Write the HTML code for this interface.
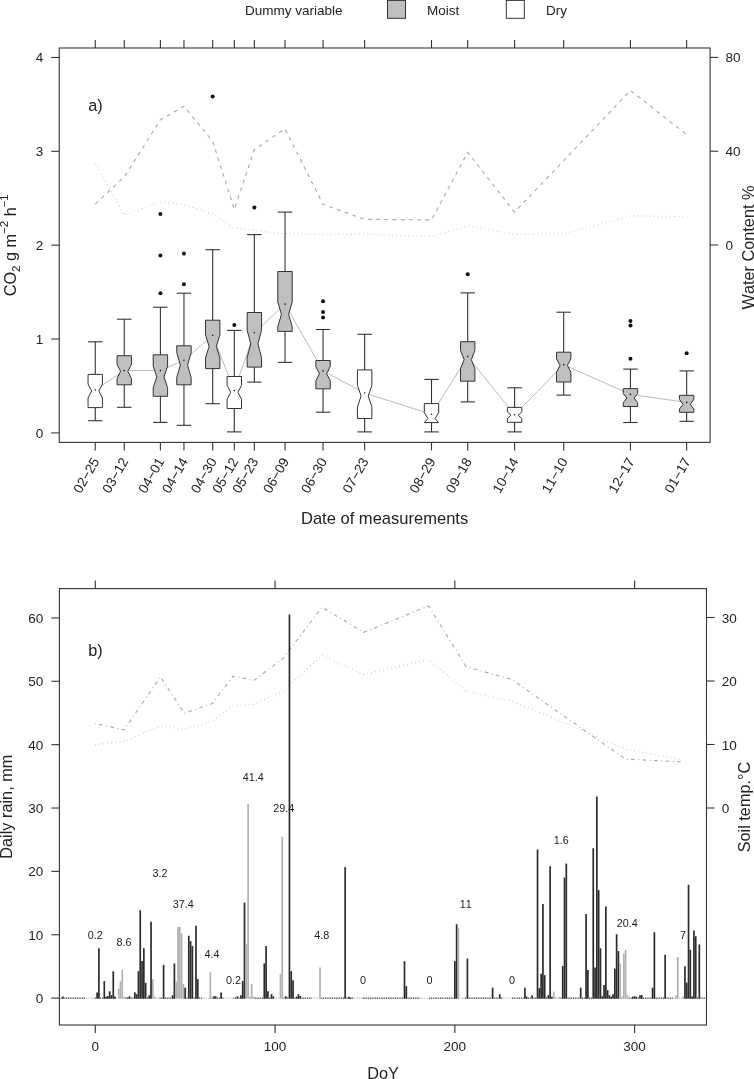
<!DOCTYPE html>
<html lang="en"><head><meta charset="utf-8"><title>Figure</title>
<style>html,body{margin:0;padding:0;background:#fff}body{width:754px;height:1079px;overflow:hidden}</style></head>
<body>
<svg width="754" height="1079" viewBox="0 0 754 1079" style="display:block;font-family:'Liberation Sans', sans-serif;font-kerning:none">
<rect x="0" y="0" width="754" height="1079" fill="#fff"/>
<text x="245" y="14.6" font-size="13.5" fill="#222">Dummy variable</text>
<rect x="387.5" y="0.4" width="18" height="17.9" fill="#bfbfbf" stroke="#333" stroke-width="1"/>
<text x="427" y="14.6" font-size="13.5" fill="#222">Moist</text>
<rect x="506.3" y="0.4" width="18" height="17.9" fill="#fff" stroke="#333" stroke-width="1"/>
<text x="546" y="14.6" font-size="13.5" fill="#222">Dry</text>
<polyline points="95.25,162.70 124.25,215.20 160.40,201.60 183.95,204.70 212.70,214.00 234.30,228.00 254.35,230.60 285.00,233.80 323.05,234.60 364.65,234.20 431.50,236.50 467.70,225.90 514.60,234.60 563.70,234.00 630.45,215.80 686.65,216.80" fill="none" stroke="#d0d0d0" stroke-width="1.2" stroke-dasharray="1.1,3.0" stroke-linecap="butt" stroke-linejoin="round"/>
<polyline points="95.25,204.00 124.25,177.00 160.40,119.80 183.95,106.30 212.70,141.30 234.30,209.30 254.35,149.60 285.00,128.80 323.05,204.30 364.65,219.30 431.50,219.90 467.70,152.30 514.60,212.20 630.45,90.50 686.65,134.60" fill="none" stroke="#ababab" stroke-width="1.15" stroke-dasharray="3.8,4.39" stroke-linecap="butt" stroke-linejoin="round"/>
<polyline points="95.25,390.00 124.25,370.60 160.40,370.60 183.95,360.20 212.70,335.30 234.30,390.60 254.35,332.80 285.00,304.10 323.05,370.90 364.65,393.00 431.50,414.30 467.70,356.60 514.60,414.70 563.70,364.60 630.45,394.40 686.65,402.40" fill="none" stroke="#a8a8a8" stroke-width="0.8" stroke-dasharray="none" stroke-linecap="butt" stroke-linejoin="round"/>
<line x1="95.25" y1="341.80" x2="95.25" y2="374.40" stroke="#333" stroke-width="1.1" />
<line x1="95.25" y1="407.60" x2="95.25" y2="420.70" stroke="#333" stroke-width="1.1" />
<line x1="88.05" y1="341.80" x2="102.45" y2="341.80" stroke="#333" stroke-width="1.1" />
<line x1="88.05" y1="420.70" x2="102.45" y2="420.70" stroke="#333" stroke-width="1.1" />
<polygon points="88.05,374.40 102.45,374.40 102.45,384.00 98.85,391.00 102.45,398.00 102.45,407.60 88.05,407.60 88.05,398.00 91.65,391.00 88.05,384.00" fill="#fff" stroke="#333" stroke-width="1.0" stroke-linejoin="miter"/>
<circle cx="95.25" cy="390.00" r="0.8" fill="#111"/>
<line x1="124.25" y1="319.20" x2="124.25" y2="355.70" stroke="#333" stroke-width="1.1" />
<line x1="124.25" y1="384.80" x2="124.25" y2="407.30" stroke="#333" stroke-width="1.1" />
<line x1="117.05" y1="319.20" x2="131.45" y2="319.20" stroke="#333" stroke-width="1.1" />
<line x1="117.05" y1="407.30" x2="131.45" y2="407.30" stroke="#333" stroke-width="1.1" />
<polygon points="117.05,355.70 131.45,355.70 131.45,364.40 127.85,371.40 131.45,378.40 131.45,384.80 117.05,384.80 117.05,378.40 120.65,371.40 117.05,364.40" fill="#bfbfbf" stroke="#333" stroke-width="1.0" stroke-linejoin="miter"/>
<circle cx="124.25" cy="370.60" r="0.8" fill="#111"/>
<line x1="160.40" y1="307.20" x2="160.40" y2="354.80" stroke="#333" stroke-width="1.1" />
<line x1="160.40" y1="396.30" x2="160.40" y2="422.40" stroke="#333" stroke-width="1.1" />
<line x1="153.20" y1="307.20" x2="167.60" y2="307.20" stroke="#333" stroke-width="1.1" />
<line x1="153.20" y1="422.40" x2="167.60" y2="422.40" stroke="#333" stroke-width="1.1" />
<polygon points="153.20,354.80 167.60,354.80 167.60,366.10 164.00,376.90 167.60,387.70 167.60,396.30 153.20,396.30 153.20,387.70 156.80,376.90 153.20,366.10" fill="#bfbfbf" stroke="#333" stroke-width="1.0" stroke-linejoin="miter"/>
<circle cx="160.40" cy="370.60" r="0.8" fill="#111"/>
<circle cx="160.40" cy="214.00" r="2.0" fill="#111"/>
<circle cx="160.40" cy="255.40" r="2.0" fill="#111"/>
<circle cx="160.40" cy="293.20" r="2.0" fill="#111"/>
<line x1="183.95" y1="293.20" x2="183.95" y2="345.80" stroke="#333" stroke-width="1.1" />
<line x1="183.95" y1="384.80" x2="183.95" y2="425.30" stroke="#333" stroke-width="1.1" />
<line x1="176.75" y1="293.20" x2="191.15" y2="293.20" stroke="#333" stroke-width="1.1" />
<line x1="176.75" y1="425.30" x2="191.15" y2="425.30" stroke="#333" stroke-width="1.1" />
<polygon points="176.75,345.80 191.15,345.80 191.15,352.70 187.55,365.10 191.15,377.50 191.15,384.80 176.75,384.80 176.75,377.50 180.35,365.10 176.75,352.70" fill="#bfbfbf" stroke="#333" stroke-width="1.0" stroke-linejoin="miter"/>
<circle cx="183.95" cy="360.20" r="0.8" fill="#111"/>
<circle cx="183.95" cy="253.60" r="2.0" fill="#111"/>
<circle cx="183.95" cy="284.30" r="2.0" fill="#111"/>
<line x1="212.70" y1="249.70" x2="212.70" y2="320.20" stroke="#333" stroke-width="1.1" />
<line x1="212.70" y1="368.60" x2="212.70" y2="403.70" stroke="#333" stroke-width="1.1" />
<line x1="205.50" y1="249.70" x2="219.90" y2="249.70" stroke="#333" stroke-width="1.1" />
<line x1="205.50" y1="403.70" x2="219.90" y2="403.70" stroke="#333" stroke-width="1.1" />
<polygon points="205.50,320.20 219.90,320.20 219.90,334.80 216.30,346.40 219.90,358.00 219.90,368.60 205.50,368.60 205.50,358.00 209.10,346.40 205.50,334.80" fill="#bfbfbf" stroke="#333" stroke-width="1.0" stroke-linejoin="miter"/>
<circle cx="212.70" cy="335.30" r="0.8" fill="#111"/>
<circle cx="212.70" cy="96.60" r="2.0" fill="#111"/>
<line x1="234.30" y1="330.40" x2="234.30" y2="376.50" stroke="#333" stroke-width="1.1" />
<line x1="234.30" y1="408.50" x2="234.30" y2="431.90" stroke="#333" stroke-width="1.1" />
<line x1="227.10" y1="330.40" x2="241.50" y2="330.40" stroke="#333" stroke-width="1.1" />
<line x1="227.10" y1="431.90" x2="241.50" y2="431.90" stroke="#333" stroke-width="1.1" />
<polygon points="227.10,376.50 241.50,376.50 241.50,385.30 237.90,392.30 241.50,399.30 241.50,408.50 227.10,408.50 227.10,399.30 230.70,392.30 227.10,385.30" fill="#fff" stroke="#333" stroke-width="1.0" stroke-linejoin="miter"/>
<circle cx="234.30" cy="390.60" r="0.8" fill="#111"/>
<circle cx="234.30" cy="325.00" r="2.0" fill="#111"/>
<line x1="254.35" y1="234.60" x2="254.35" y2="312.50" stroke="#333" stroke-width="1.1" />
<line x1="254.35" y1="367.10" x2="254.35" y2="382.10" stroke="#333" stroke-width="1.1" />
<line x1="247.15" y1="234.60" x2="261.55" y2="234.60" stroke="#333" stroke-width="1.1" />
<line x1="247.15" y1="382.10" x2="261.55" y2="382.10" stroke="#333" stroke-width="1.1" />
<polygon points="247.15,312.50 261.55,312.50 261.55,330.20 257.95,343.90 261.55,357.60 261.55,367.10 247.15,367.10 247.15,357.60 250.75,343.90 247.15,330.20" fill="#bfbfbf" stroke="#333" stroke-width="1.0" stroke-linejoin="miter"/>
<circle cx="254.35" cy="332.80" r="0.8" fill="#111"/>
<circle cx="254.35" cy="207.40" r="2.0" fill="#111"/>
<line x1="285.00" y1="212.10" x2="285.00" y2="271.50" stroke="#333" stroke-width="1.1" />
<line x1="285.00" y1="331.40" x2="285.00" y2="362.40" stroke="#333" stroke-width="1.1" />
<line x1="277.80" y1="212.10" x2="292.20" y2="212.10" stroke="#333" stroke-width="1.1" />
<line x1="277.80" y1="362.40" x2="292.20" y2="362.40" stroke="#333" stroke-width="1.1" />
<polygon points="277.80,271.50 292.20,271.50 292.20,302.00 288.60,314.40 292.20,326.80 292.20,331.40 277.80,331.40 277.80,326.80 281.40,314.40 277.80,302.00" fill="#bfbfbf" stroke="#333" stroke-width="1.0" stroke-linejoin="miter"/>
<circle cx="285.00" cy="304.10" r="0.8" fill="#111"/>
<line x1="323.05" y1="329.50" x2="323.05" y2="360.50" stroke="#333" stroke-width="1.1" />
<line x1="323.05" y1="388.80" x2="323.05" y2="412.20" stroke="#333" stroke-width="1.1" />
<line x1="315.85" y1="329.50" x2="330.25" y2="329.50" stroke="#333" stroke-width="1.1" />
<line x1="315.85" y1="412.20" x2="330.25" y2="412.20" stroke="#333" stroke-width="1.1" />
<polygon points="315.85,360.50 330.25,360.50 330.25,366.60 326.65,373.70 330.25,380.80 330.25,388.80 315.85,388.80 315.85,380.80 319.45,373.70 315.85,366.60" fill="#bfbfbf" stroke="#333" stroke-width="1.0" stroke-linejoin="miter"/>
<circle cx="323.05" cy="370.90" r="0.8" fill="#111"/>
<circle cx="323.05" cy="301.30" r="2.0" fill="#111"/>
<circle cx="323.05" cy="312.00" r="2.0" fill="#111"/>
<circle cx="323.05" cy="317.50" r="2.0" fill="#111"/>
<line x1="364.65" y1="334.30" x2="364.65" y2="369.90" stroke="#333" stroke-width="1.1" />
<line x1="364.65" y1="418.50" x2="364.65" y2="431.90" stroke="#333" stroke-width="1.1" />
<line x1="357.45" y1="334.30" x2="371.85" y2="334.30" stroke="#333" stroke-width="1.1" />
<line x1="357.45" y1="431.90" x2="371.85" y2="431.90" stroke="#333" stroke-width="1.1" />
<polygon points="357.45,369.90 371.85,369.90 371.85,385.30 368.25,396.10 371.85,406.90 371.85,418.50 357.45,418.50 357.45,406.90 361.05,396.10 357.45,385.30" fill="#fff" stroke="#333" stroke-width="1.0" stroke-linejoin="miter"/>
<circle cx="364.65" cy="393.00" r="0.8" fill="#111"/>
<line x1="431.50" y1="379.40" x2="431.50" y2="403.60" stroke="#333" stroke-width="1.1" />
<line x1="431.50" y1="422.60" x2="431.50" y2="431.90" stroke="#333" stroke-width="1.1" />
<line x1="424.30" y1="379.40" x2="438.70" y2="379.40" stroke="#333" stroke-width="1.1" />
<line x1="424.30" y1="431.90" x2="438.70" y2="431.90" stroke="#333" stroke-width="1.1" />
<polygon points="424.30,403.60 438.70,403.60 438.70,412.70 435.10,418.50 438.70,422.60 438.70,422.60 424.30,422.60 424.30,422.60 427.90,418.50 424.30,412.70" fill="#fff" stroke="#333" stroke-width="1.0" stroke-linejoin="miter"/>
<circle cx="431.50" cy="414.30" r="0.8" fill="#111"/>
<line x1="467.70" y1="292.90" x2="467.70" y2="341.70" stroke="#333" stroke-width="1.1" />
<line x1="467.70" y1="381.20" x2="467.70" y2="401.90" stroke="#333" stroke-width="1.1" />
<line x1="460.50" y1="292.90" x2="474.90" y2="292.90" stroke="#333" stroke-width="1.1" />
<line x1="460.50" y1="401.90" x2="474.90" y2="401.90" stroke="#333" stroke-width="1.1" />
<polygon points="460.50,341.70 474.90,341.70 474.90,350.50 471.30,359.60 474.90,368.70 474.90,381.20 460.50,381.20 460.50,368.70 464.10,359.60 460.50,350.50" fill="#bfbfbf" stroke="#333" stroke-width="1.0" stroke-linejoin="miter"/>
<circle cx="467.70" cy="356.60" r="0.8" fill="#111"/>
<circle cx="467.70" cy="274.30" r="2.0" fill="#111"/>
<line x1="514.60" y1="387.80" x2="514.60" y2="407.40" stroke="#333" stroke-width="1.1" />
<line x1="514.60" y1="422.30" x2="514.60" y2="431.90" stroke="#333" stroke-width="1.1" />
<line x1="507.40" y1="387.80" x2="521.80" y2="387.80" stroke="#333" stroke-width="1.1" />
<line x1="507.40" y1="431.90" x2="521.80" y2="431.90" stroke="#333" stroke-width="1.1" />
<polygon points="507.40,407.40 521.80,407.40 521.80,411.90 518.20,415.20 521.80,418.50 521.80,422.30 507.40,422.30 507.40,418.50 511.00,415.20 507.40,411.90" fill="#fff" stroke="#333" stroke-width="1.0" stroke-linejoin="miter"/>
<circle cx="514.60" cy="414.70" r="0.8" fill="#111"/>
<line x1="563.70" y1="312.20" x2="563.70" y2="352.20" stroke="#333" stroke-width="1.1" />
<line x1="563.70" y1="382.00" x2="563.70" y2="395.10" stroke="#333" stroke-width="1.1" />
<line x1="556.50" y1="312.20" x2="570.90" y2="312.20" stroke="#333" stroke-width="1.1" />
<line x1="556.50" y1="395.10" x2="570.90" y2="395.10" stroke="#333" stroke-width="1.1" />
<polygon points="556.50,352.20 570.90,352.20 570.90,358.80 567.30,365.40 570.90,372.10 570.90,382.00 556.50,382.00 556.50,372.10 560.10,365.40 556.50,358.80" fill="#bfbfbf" stroke="#333" stroke-width="1.0" stroke-linejoin="miter"/>
<circle cx="563.70" cy="364.60" r="0.8" fill="#111"/>
<line x1="630.45" y1="369.10" x2="630.45" y2="388.60" stroke="#333" stroke-width="1.1" />
<line x1="630.45" y1="406.50" x2="630.45" y2="422.50" stroke="#333" stroke-width="1.1" />
<line x1="623.25" y1="369.10" x2="637.65" y2="369.10" stroke="#333" stroke-width="1.1" />
<line x1="623.25" y1="422.50" x2="637.65" y2="422.50" stroke="#333" stroke-width="1.1" />
<polygon points="623.25,388.60 637.65,388.60 637.65,393.60 634.05,398.10 637.65,402.70 637.65,406.50 623.25,406.50 623.25,402.70 626.85,398.10 623.25,393.60" fill="#bfbfbf" stroke="#333" stroke-width="1.0" stroke-linejoin="miter"/>
<circle cx="630.45" cy="394.40" r="0.8" fill="#111"/>
<circle cx="630.45" cy="321.00" r="2.0" fill="#111"/>
<circle cx="630.45" cy="325.60" r="2.0" fill="#111"/>
<circle cx="630.45" cy="358.80" r="2.0" fill="#111"/>
<line x1="686.65" y1="370.90" x2="686.65" y2="395.30" stroke="#333" stroke-width="1.1" />
<line x1="686.65" y1="412.30" x2="686.65" y2="421.30" stroke="#333" stroke-width="1.1" />
<line x1="679.45" y1="370.90" x2="693.85" y2="370.90" stroke="#333" stroke-width="1.1" />
<line x1="679.45" y1="421.30" x2="693.85" y2="421.30" stroke="#333" stroke-width="1.1" />
<polygon points="679.45,395.30 693.85,395.30 693.85,399.40 690.25,404.40 693.85,409.00 693.85,412.30 679.45,412.30 679.45,409.00 683.05,404.40 679.45,399.40" fill="#bfbfbf" stroke="#333" stroke-width="1.0" stroke-linejoin="miter"/>
<circle cx="686.65" cy="402.40" r="0.8" fill="#111"/>
<circle cx="686.65" cy="353.20" r="2.0" fill="#111"/>
<rect x="59.25" y="48.0" width="650.85" height="394.40" fill="none" stroke="#333" stroke-width="1.1"/>
<line x1="51.25" y1="432.90" x2="59.25" y2="432.90" stroke="#333" stroke-width="1.1" />
<text x="43.3" y="437.90" font-size="13.54" text-anchor="end" fill="#222">0</text>
<line x1="51.25" y1="339.04" x2="59.25" y2="339.04" stroke="#333" stroke-width="1.1" />
<text x="43.3" y="344.04" font-size="13.54" text-anchor="end" fill="#222">1</text>
<line x1="51.25" y1="245.18" x2="59.25" y2="245.18" stroke="#333" stroke-width="1.1" />
<text x="43.3" y="250.18" font-size="13.54" text-anchor="end" fill="#222">2</text>
<line x1="51.25" y1="151.32" x2="59.25" y2="151.32" stroke="#333" stroke-width="1.1" />
<text x="43.3" y="156.32" font-size="13.54" text-anchor="end" fill="#222">3</text>
<line x1="51.25" y1="57.46" x2="59.25" y2="57.46" stroke="#333" stroke-width="1.1" />
<text x="43.3" y="62.46" font-size="13.54" text-anchor="end" fill="#222">4</text>
<line x1="710.10" y1="245.00" x2="718.10" y2="245.00" stroke="#333" stroke-width="1.1" />
<text x="725.4" y="250.00" font-size="13.54" fill="#222">0</text>
<line x1="710.10" y1="151.20" x2="718.10" y2="151.20" stroke="#333" stroke-width="1.1" />
<text x="725.4" y="156.20" font-size="13.54" fill="#222">40</text>
<line x1="710.10" y1="57.40" x2="718.10" y2="57.40" stroke="#333" stroke-width="1.1" />
<text x="725.4" y="62.40" font-size="13.54" fill="#222">80</text>
<line x1="95.25" y1="40.00" x2="95.25" y2="48.00" stroke="#333" stroke-width="1.1" />
<line x1="95.25" y1="442.40" x2="95.25" y2="450.40" stroke="#333" stroke-width="1.1" />
<text transform="translate(95.55,458.8) rotate(-60)" font-size="13.54" text-anchor="end" dy="4.8" fill="#222">02−25</text>
<line x1="124.25" y1="40.00" x2="124.25" y2="48.00" stroke="#333" stroke-width="1.1" />
<line x1="124.25" y1="442.40" x2="124.25" y2="450.40" stroke="#333" stroke-width="1.1" />
<text transform="translate(124.55,458.8) rotate(-60)" font-size="13.54" text-anchor="end" dy="4.8" fill="#222">03−12</text>
<line x1="160.40" y1="40.00" x2="160.40" y2="48.00" stroke="#333" stroke-width="1.1" />
<line x1="160.40" y1="442.40" x2="160.40" y2="450.40" stroke="#333" stroke-width="1.1" />
<text transform="translate(160.70,458.8) rotate(-60)" font-size="13.54" text-anchor="end" dy="4.8" fill="#222">04−01</text>
<line x1="183.95" y1="40.00" x2="183.95" y2="48.00" stroke="#333" stroke-width="1.1" />
<line x1="183.95" y1="442.40" x2="183.95" y2="450.40" stroke="#333" stroke-width="1.1" />
<text transform="translate(184.25,458.8) rotate(-60)" font-size="13.54" text-anchor="end" dy="4.8" fill="#222">04−14</text>
<line x1="212.70" y1="40.00" x2="212.70" y2="48.00" stroke="#333" stroke-width="1.1" />
<line x1="212.70" y1="442.40" x2="212.70" y2="450.40" stroke="#333" stroke-width="1.1" />
<text transform="translate(213.00,458.8) rotate(-60)" font-size="13.54" text-anchor="end" dy="4.8" fill="#222">04−30</text>
<line x1="234.30" y1="40.00" x2="234.30" y2="48.00" stroke="#333" stroke-width="1.1" />
<line x1="234.30" y1="442.40" x2="234.30" y2="450.40" stroke="#333" stroke-width="1.1" />
<text transform="translate(234.60,458.8) rotate(-60)" font-size="13.54" text-anchor="end" dy="4.8" fill="#222">05−12</text>
<line x1="254.35" y1="40.00" x2="254.35" y2="48.00" stroke="#333" stroke-width="1.1" />
<line x1="254.35" y1="442.40" x2="254.35" y2="450.40" stroke="#333" stroke-width="1.1" />
<text transform="translate(254.65,458.8) rotate(-60)" font-size="13.54" text-anchor="end" dy="4.8" fill="#222">05−23</text>
<line x1="285.00" y1="40.00" x2="285.00" y2="48.00" stroke="#333" stroke-width="1.1" />
<line x1="285.00" y1="442.40" x2="285.00" y2="450.40" stroke="#333" stroke-width="1.1" />
<text transform="translate(285.30,458.8) rotate(-60)" font-size="13.54" text-anchor="end" dy="4.8" fill="#222">06−09</text>
<line x1="323.05" y1="40.00" x2="323.05" y2="48.00" stroke="#333" stroke-width="1.1" />
<line x1="323.05" y1="442.40" x2="323.05" y2="450.40" stroke="#333" stroke-width="1.1" />
<text transform="translate(323.35,458.8) rotate(-60)" font-size="13.54" text-anchor="end" dy="4.8" fill="#222">06−30</text>
<line x1="364.65" y1="40.00" x2="364.65" y2="48.00" stroke="#333" stroke-width="1.1" />
<line x1="364.65" y1="442.40" x2="364.65" y2="450.40" stroke="#333" stroke-width="1.1" />
<text transform="translate(364.95,458.8) rotate(-60)" font-size="13.54" text-anchor="end" dy="4.8" fill="#222">07−23</text>
<line x1="431.50" y1="40.00" x2="431.50" y2="48.00" stroke="#333" stroke-width="1.1" />
<line x1="431.50" y1="442.40" x2="431.50" y2="450.40" stroke="#333" stroke-width="1.1" />
<text transform="translate(431.80,458.8) rotate(-60)" font-size="13.54" text-anchor="end" dy="4.8" fill="#222">08−29</text>
<line x1="467.70" y1="40.00" x2="467.70" y2="48.00" stroke="#333" stroke-width="1.1" />
<line x1="467.70" y1="442.40" x2="467.70" y2="450.40" stroke="#333" stroke-width="1.1" />
<text transform="translate(468.00,458.8) rotate(-60)" font-size="13.54" text-anchor="end" dy="4.8" fill="#222">09−18</text>
<line x1="514.60" y1="40.00" x2="514.60" y2="48.00" stroke="#333" stroke-width="1.1" />
<line x1="514.60" y1="442.40" x2="514.60" y2="450.40" stroke="#333" stroke-width="1.1" />
<text transform="translate(514.90,458.8) rotate(-60)" font-size="13.54" text-anchor="end" dy="4.8" fill="#222">10−14</text>
<line x1="563.70" y1="40.00" x2="563.70" y2="48.00" stroke="#333" stroke-width="1.1" />
<line x1="563.70" y1="442.40" x2="563.70" y2="450.40" stroke="#333" stroke-width="1.1" />
<text transform="translate(564.00,458.8) rotate(-60)" font-size="13.54" text-anchor="end" dy="4.8" fill="#222">11−10</text>
<line x1="630.45" y1="40.00" x2="630.45" y2="48.00" stroke="#333" stroke-width="1.1" />
<line x1="630.45" y1="442.40" x2="630.45" y2="450.40" stroke="#333" stroke-width="1.1" />
<text transform="translate(630.75,458.8) rotate(-60)" font-size="13.54" text-anchor="end" dy="4.8" fill="#222">12−17</text>
<line x1="686.65" y1="40.00" x2="686.65" y2="48.00" stroke="#333" stroke-width="1.1" />
<line x1="686.65" y1="442.40" x2="686.65" y2="450.40" stroke="#333" stroke-width="1.1" />
<text transform="translate(686.95,458.8) rotate(-60)" font-size="13.54" text-anchor="end" dy="4.8" fill="#222">01−17</text>
<text x="384.6" y="524.4" font-size="16.55" text-anchor="middle" fill="#222">Date of measurements</text>
<text transform="translate(15.9,245.3) rotate(-90)" font-size="16.3" text-anchor="middle" fill="#222">CO<tspan font-size="11.4" dy="3.9">2</tspan><tspan dy="-3.9"> g m</tspan><tspan font-size="11.4" dy="-7.6">−2</tspan><tspan dy="7.6"> h</tspan><tspan font-size="11.4" dy="-7.6">−1</tspan></text>
<text transform="translate(753.5,247.5) rotate(-90)" font-size="16.3" text-anchor="middle" fill="#222">Water Content %</text>
<text x="88.3" y="110.6" font-size="16.3" fill="#222">a)</text>
<polyline points="94.80,744.80 124.00,741.50 160.50,725.90 184.30,729.30 212.50,721.00 233.10,705.40 254.00,704.40 282.90,691.10 322.00,655.30 363.80,674.50 428.60,659.60 466.10,691.20 512.00,701.40 560.80,721.00 625.80,749.20 681.50,759.80" fill="none" stroke="#d0d0d0" stroke-width="1.2" stroke-dasharray="1.1,3.0" stroke-linecap="butt" stroke-linejoin="round"/>
<polyline points="94.80,723.30 124.00,729.90 160.50,676.90 184.30,713.30 212.50,703.40 233.10,676.20 254.00,680.20 282.90,658.50 322.00,607.20 363.80,632.40 428.60,605.90 466.10,666.60 512.00,679.50 560.80,714.00 625.80,759.10 681.50,761.80" fill="none" stroke="#ababab" stroke-width="1.15" stroke-dasharray="1.0,3.2,3.8,3.5" stroke-linecap="butt" stroke-linejoin="round"/>
<g stroke-width="1.7" stroke-linecap="butt">
<line x1="61.14" y1="998.80" x2="61.14" y2="997.50" stroke="#2b2b2b" stroke-width="1.0"/>
<line x1="62.94" y1="998.80" x2="62.94" y2="996.41" stroke="#2b2b2b"/>
<line x1="64.74" y1="998.80" x2="64.74" y2="997.50" stroke="#2b2b2b" stroke-width="1.0"/>
<line x1="66.54" y1="998.80" x2="66.54" y2="997.50" stroke="#2b2b2b" stroke-width="1.0"/>
<line x1="68.33" y1="998.80" x2="68.33" y2="997.50" stroke="#2b2b2b" stroke-width="1.0"/>
<line x1="70.13" y1="998.80" x2="70.13" y2="997.50" stroke="#2b2b2b" stroke-width="1.0"/>
<line x1="71.93" y1="998.80" x2="71.93" y2="997.50" stroke="#2b2b2b" stroke-width="1.0"/>
<line x1="73.73" y1="998.80" x2="73.73" y2="997.50" stroke="#2b2b2b" stroke-width="1.0"/>
<line x1="75.53" y1="998.80" x2="75.53" y2="997.50" stroke="#2b2b2b" stroke-width="1.0"/>
<line x1="77.32" y1="998.80" x2="77.32" y2="997.50" stroke="#2b2b2b" stroke-width="1.0"/>
<line x1="79.12" y1="998.80" x2="79.12" y2="997.50" stroke="#2b2b2b" stroke-width="1.0"/>
<line x1="80.92" y1="998.80" x2="80.92" y2="997.50" stroke="#2b2b2b" stroke-width="1.0"/>
<line x1="82.72" y1="998.80" x2="82.72" y2="997.50" stroke="#2b2b2b" stroke-width="1.0"/>
<line x1="84.51" y1="998.80" x2="84.51" y2="997.50" stroke="#2b2b2b" stroke-width="1.0"/>
<line x1="86.31" y1="998.80" x2="86.31" y2="997.50" stroke="#c4c4c4" stroke-width="1.0"/>
<line x1="88.11" y1="998.80" x2="88.11" y2="997.50" stroke="#c4c4c4" stroke-width="1.0"/>
<line x1="89.91" y1="998.80" x2="89.91" y2="997.50" stroke="#c4c4c4" stroke-width="1.0"/>
<line x1="91.70" y1="998.80" x2="91.70" y2="997.50" stroke="#c4c4c4" stroke-width="1.0"/>
<line x1="93.50" y1="998.80" x2="93.50" y2="997.50" stroke="#c4c4c4" stroke-width="1.0"/>
<line x1="95.30" y1="998.80" x2="95.30" y2="997.50" stroke="#2b2b2b" stroke-width="1.0"/>
<line x1="97.10" y1="998.80" x2="97.10" y2="992.62" stroke="#2b2b2b"/>
<line x1="98.90" y1="998.80" x2="98.90" y2="948.27" stroke="#2b2b2b"/>
<line x1="100.69" y1="998.80" x2="100.69" y2="997.50" stroke="#2b2b2b" stroke-width="1.0"/>
<line x1="102.49" y1="998.80" x2="102.49" y2="997.50" stroke="#2b2b2b" stroke-width="1.0"/>
<line x1="104.29" y1="998.80" x2="104.29" y2="981.09" stroke="#2b2b2b"/>
<line x1="106.09" y1="998.80" x2="106.09" y2="996.70" stroke="#2b2b2b"/>
<line x1="107.88" y1="998.80" x2="107.88" y2="995.97" stroke="#2b2b2b"/>
<line x1="109.68" y1="998.80" x2="109.68" y2="991.31" stroke="#2b2b2b"/>
<line x1="111.48" y1="998.80" x2="111.48" y2="995.24" stroke="#2b2b2b"/>
<line x1="113.28" y1="998.80" x2="113.28" y2="971.17" stroke="#2b2b2b"/>
<line x1="115.07" y1="998.80" x2="115.07" y2="996.41" stroke="#2b2b2b"/>
<line x1="116.87" y1="998.80" x2="116.87" y2="997.50" stroke="#c4c4c4" stroke-width="1.0"/>
<line x1="118.67" y1="998.80" x2="118.67" y2="988.68" stroke="#b0b0b0"/>
<line x1="120.47" y1="998.80" x2="120.47" y2="981.39" stroke="#b0b0b0"/>
<line x1="122.27" y1="998.80" x2="122.27" y2="970.01" stroke="#b0b0b0"/>
<line x1="124.06" y1="998.80" x2="124.06" y2="996.70" stroke="#b0b0b0"/>
<line x1="125.86" y1="998.80" x2="125.86" y2="997.50" stroke="#2b2b2b" stroke-width="1.0"/>
<line x1="127.66" y1="998.80" x2="127.66" y2="997.43" stroke="#2b2b2b"/>
<line x1="129.46" y1="998.80" x2="129.46" y2="996.27" stroke="#2b2b2b"/>
<line x1="131.25" y1="998.80" x2="131.25" y2="997.50" stroke="#2b2b2b" stroke-width="1.0"/>
<line x1="133.05" y1="998.80" x2="133.05" y2="997.50" stroke="#2b2b2b" stroke-width="1.0"/>
<line x1="134.85" y1="998.80" x2="134.85" y2="992.33" stroke="#2b2b2b"/>
<line x1="136.65" y1="998.80" x2="136.65" y2="994.22" stroke="#2b2b2b"/>
<line x1="138.44" y1="998.80" x2="138.44" y2="971.17" stroke="#2b2b2b"/>
<line x1="140.24" y1="998.80" x2="140.24" y2="910.20" stroke="#2b2b2b"/>
<line x1="142.04" y1="998.80" x2="142.04" y2="960.96" stroke="#2b2b2b"/>
<line x1="143.84" y1="998.80" x2="143.84" y2="948.27" stroke="#2b2b2b"/>
<line x1="145.64" y1="998.80" x2="145.64" y2="982.84" stroke="#2b2b2b"/>
<line x1="147.43" y1="998.80" x2="147.43" y2="997.50" stroke="#2b2b2b" stroke-width="1.0"/>
<line x1="149.23" y1="998.80" x2="149.23" y2="995.24" stroke="#2b2b2b"/>
<line x1="151.03" y1="998.80" x2="151.03" y2="921.87" stroke="#2b2b2b"/>
<line x1="152.83" y1="998.80" x2="152.83" y2="979.20" stroke="#b0b0b0"/>
<line x1="154.62" y1="998.80" x2="154.62" y2="996.41" stroke="#b0b0b0"/>
<line x1="156.42" y1="998.80" x2="156.42" y2="997.50" stroke="#c4c4c4" stroke-width="1.0"/>
<line x1="158.22" y1="998.80" x2="158.22" y2="997.50" stroke="#c4c4c4" stroke-width="1.0"/>
<line x1="160.02" y1="998.80" x2="160.02" y2="997.50" stroke="#2b2b2b" stroke-width="1.0"/>
<line x1="161.81" y1="998.80" x2="161.81" y2="997.50" stroke="#2b2b2b" stroke-width="1.0"/>
<line x1="163.61" y1="998.80" x2="163.61" y2="964.90" stroke="#2b2b2b"/>
<line x1="165.41" y1="998.80" x2="165.41" y2="997.50" stroke="#2b2b2b" stroke-width="1.0"/>
<line x1="167.21" y1="998.80" x2="167.21" y2="997.50" stroke="#2b2b2b" stroke-width="1.0"/>
<line x1="169.01" y1="998.80" x2="169.01" y2="997.50" stroke="#2b2b2b" stroke-width="1.0"/>
<line x1="170.80" y1="998.80" x2="170.80" y2="997.50" stroke="#2b2b2b" stroke-width="1.0"/>
<line x1="172.60" y1="998.80" x2="172.60" y2="995.24" stroke="#2b2b2b"/>
<line x1="174.40" y1="998.80" x2="174.40" y2="963.44" stroke="#2b2b2b"/>
<line x1="176.20" y1="998.80" x2="176.20" y2="981.68" stroke="#b0b0b0"/>
<line x1="177.99" y1="998.80" x2="177.99" y2="926.97" stroke="#b0b0b0"/>
<line x1="179.79" y1="998.80" x2="179.79" y2="926.97" stroke="#b0b0b0"/>
<line x1="181.59" y1="998.80" x2="181.59" y2="933.25" stroke="#b0b0b0"/>
<line x1="183.39" y1="998.80" x2="183.39" y2="983.87" stroke="#b0b0b0"/>
<line x1="185.19" y1="998.80" x2="185.19" y2="987.66" stroke="#2b2b2b"/>
<line x1="186.98" y1="998.80" x2="186.98" y2="997.50" stroke="#2b2b2b" stroke-width="1.0"/>
<line x1="188.78" y1="998.80" x2="188.78" y2="935.73" stroke="#2b2b2b"/>
<line x1="190.58" y1="998.80" x2="190.58" y2="940.98" stroke="#2b2b2b"/>
<line x1="192.38" y1="998.80" x2="192.38" y2="945.94" stroke="#2b2b2b"/>
<line x1="194.17" y1="998.80" x2="194.17" y2="997.50" stroke="#2b2b2b" stroke-width="1.0"/>
<line x1="195.97" y1="998.80" x2="195.97" y2="925.66" stroke="#2b2b2b"/>
<line x1="197.77" y1="998.80" x2="197.77" y2="978.91" stroke="#2b2b2b"/>
<line x1="199.57" y1="998.80" x2="199.57" y2="997.50" stroke="#2b2b2b" stroke-width="1.0"/>
<line x1="201.36" y1="998.80" x2="201.36" y2="997.50" stroke="#2b2b2b" stroke-width="1.0"/>
<line x1="203.16" y1="998.80" x2="203.16" y2="997.50" stroke="#c4c4c4" stroke-width="1.0"/>
<line x1="204.96" y1="998.80" x2="204.96" y2="997.50" stroke="#c4c4c4" stroke-width="1.0"/>
<line x1="206.76" y1="998.80" x2="206.76" y2="997.50" stroke="#c4c4c4" stroke-width="1.0"/>
<line x1="208.56" y1="998.80" x2="208.56" y2="997.50" stroke="#c4c4c4" stroke-width="1.0"/>
<line x1="210.35" y1="998.80" x2="210.35" y2="972.20" stroke="#b0b0b0"/>
<line x1="212.15" y1="998.80" x2="212.15" y2="997.50" stroke="#2b2b2b" stroke-width="1.0"/>
<line x1="213.95" y1="998.80" x2="213.95" y2="996.27" stroke="#2b2b2b"/>
<line x1="215.75" y1="998.80" x2="215.75" y2="996.27" stroke="#2b2b2b"/>
<line x1="217.54" y1="998.80" x2="217.54" y2="997.50" stroke="#2b2b2b" stroke-width="1.0"/>
<line x1="219.34" y1="998.80" x2="219.34" y2="997.50" stroke="#2b2b2b" stroke-width="1.0"/>
<line x1="221.14" y1="998.80" x2="221.14" y2="992.62" stroke="#2b2b2b"/>
<line x1="222.94" y1="998.80" x2="222.94" y2="997.50" stroke="#2b2b2b" stroke-width="1.0"/>
<line x1="224.73" y1="998.80" x2="224.73" y2="997.50" stroke="#c4c4c4" stroke-width="1.0"/>
<line x1="226.53" y1="998.80" x2="226.53" y2="997.50" stroke="#c4c4c4" stroke-width="1.0"/>
<line x1="228.33" y1="998.80" x2="228.33" y2="997.50" stroke="#c4c4c4" stroke-width="1.0"/>
<line x1="230.13" y1="998.80" x2="230.13" y2="997.50" stroke="#c4c4c4" stroke-width="1.0"/>
<line x1="231.93" y1="998.80" x2="231.93" y2="997.50" stroke="#c4c4c4" stroke-width="1.0"/>
<line x1="233.72" y1="998.80" x2="233.72" y2="997.50" stroke="#2b2b2b" stroke-width="1.0"/>
<line x1="235.52" y1="998.80" x2="235.52" y2="997.50" stroke="#2b2b2b" stroke-width="1.0"/>
<line x1="237.32" y1="998.80" x2="237.32" y2="996.27" stroke="#2b2b2b"/>
<line x1="239.12" y1="998.80" x2="239.12" y2="997.50" stroke="#2b2b2b" stroke-width="1.0"/>
<line x1="240.91" y1="998.80" x2="240.91" y2="995.24" stroke="#2b2b2b"/>
<line x1="242.71" y1="998.80" x2="242.71" y2="981.09" stroke="#2b2b2b"/>
<line x1="244.51" y1="998.80" x2="244.51" y2="902.61" stroke="#2b2b2b"/>
<line x1="246.31" y1="998.80" x2="246.31" y2="944.19" stroke="#b0b0b0"/>
<line x1="248.10" y1="998.80" x2="248.10" y2="804.00" stroke="#b0b0b0"/>
<line x1="249.90" y1="998.80" x2="249.90" y2="996.70" stroke="#b0b0b0"/>
<line x1="251.70" y1="998.80" x2="251.70" y2="984.01" stroke="#b0b0b0"/>
<line x1="253.50" y1="998.80" x2="253.50" y2="996.70" stroke="#b0b0b0"/>
<line x1="255.30" y1="998.80" x2="255.30" y2="997.50" stroke="#2b2b2b" stroke-width="1.0"/>
<line x1="257.09" y1="998.80" x2="257.09" y2="997.50" stroke="#2b2b2b" stroke-width="1.0"/>
<line x1="258.89" y1="998.80" x2="258.89" y2="997.50" stroke="#2b2b2b" stroke-width="1.0"/>
<line x1="260.69" y1="998.80" x2="260.69" y2="997.50" stroke="#2b2b2b" stroke-width="1.0"/>
<line x1="262.49" y1="998.80" x2="262.49" y2="997.50" stroke="#2b2b2b" stroke-width="1.0"/>
<line x1="264.28" y1="998.80" x2="264.28" y2="963.44" stroke="#2b2b2b"/>
<line x1="266.08" y1="998.80" x2="266.08" y2="945.94" stroke="#2b2b2b"/>
<line x1="267.88" y1="998.80" x2="267.88" y2="991.31" stroke="#2b2b2b"/>
<line x1="269.68" y1="998.80" x2="269.68" y2="997.50" stroke="#2b2b2b" stroke-width="1.0"/>
<line x1="271.47" y1="998.80" x2="271.47" y2="994.22" stroke="#2b2b2b"/>
<line x1="273.27" y1="998.80" x2="273.27" y2="996.27" stroke="#2b2b2b"/>
<line x1="275.07" y1="998.80" x2="275.07" y2="997.50" stroke="#c4c4c4" stroke-width="1.0"/>
<line x1="276.87" y1="998.80" x2="276.87" y2="997.50" stroke="#c4c4c4" stroke-width="1.0"/>
<line x1="278.67" y1="998.80" x2="278.67" y2="997.50" stroke="#c4c4c4" stroke-width="1.0"/>
<line x1="280.46" y1="998.80" x2="280.46" y2="973.80" stroke="#b0b0b0"/>
<line x1="282.26" y1="998.80" x2="282.26" y2="836.70" stroke="#b0b0b0"/>
<line x1="284.06" y1="998.80" x2="284.06" y2="996.70" stroke="#b0b0b0"/>
<line x1="285.86" y1="998.80" x2="285.86" y2="996.27" stroke="#2b2b2b"/>
<line x1="287.65" y1="998.80" x2="287.65" y2="997.50" stroke="#2b2b2b" stroke-width="1.0"/>
<line x1="289.45" y1="998.80" x2="289.45" y2="614.60" stroke="#2b2b2b"/>
<line x1="291.25" y1="998.80" x2="291.25" y2="971.17" stroke="#2b2b2b"/>
<line x1="293.05" y1="998.80" x2="293.05" y2="980.22" stroke="#2b2b2b"/>
<line x1="294.84" y1="998.80" x2="294.84" y2="997.50" stroke="#2b2b2b" stroke-width="1.0"/>
<line x1="296.64" y1="998.80" x2="296.64" y2="996.70" stroke="#2b2b2b"/>
<line x1="298.44" y1="998.80" x2="298.44" y2="994.22" stroke="#2b2b2b"/>
<line x1="300.24" y1="998.80" x2="300.24" y2="995.97" stroke="#2b2b2b"/>
<line x1="302.04" y1="998.80" x2="302.04" y2="997.50" stroke="#2b2b2b" stroke-width="1.0"/>
<line x1="303.83" y1="998.80" x2="303.83" y2="997.50" stroke="#2b2b2b" stroke-width="1.0"/>
<line x1="305.63" y1="998.80" x2="305.63" y2="997.50" stroke="#2b2b2b" stroke-width="1.0"/>
<line x1="307.43" y1="998.80" x2="307.43" y2="997.50" stroke="#2b2b2b" stroke-width="1.0"/>
<line x1="309.23" y1="998.80" x2="309.23" y2="997.50" stroke="#2b2b2b" stroke-width="1.0"/>
<line x1="311.02" y1="998.80" x2="311.02" y2="997.50" stroke="#2b2b2b" stroke-width="1.0"/>
<line x1="312.82" y1="998.80" x2="312.82" y2="997.50" stroke="#c4c4c4" stroke-width="1.0"/>
<line x1="314.62" y1="998.80" x2="314.62" y2="997.50" stroke="#c4c4c4" stroke-width="1.0"/>
<line x1="316.42" y1="998.80" x2="316.42" y2="997.50" stroke="#c4c4c4" stroke-width="1.0"/>
<line x1="318.21" y1="998.80" x2="318.21" y2="997.50" stroke="#c4c4c4" stroke-width="1.0"/>
<line x1="320.01" y1="998.80" x2="320.01" y2="967.53" stroke="#b0b0b0"/>
<line x1="321.81" y1="998.80" x2="321.81" y2="997.50" stroke="#2b2b2b" stroke-width="1.0"/>
<line x1="323.61" y1="998.80" x2="323.61" y2="997.50" stroke="#2b2b2b" stroke-width="1.0"/>
<line x1="325.41" y1="998.80" x2="325.41" y2="997.50" stroke="#2b2b2b" stroke-width="1.0"/>
<line x1="327.20" y1="998.80" x2="327.20" y2="997.50" stroke="#2b2b2b" stroke-width="1.0"/>
<line x1="329.00" y1="998.80" x2="329.00" y2="997.50" stroke="#2b2b2b" stroke-width="1.0"/>
<line x1="330.80" y1="998.80" x2="330.80" y2="997.50" stroke="#2b2b2b" stroke-width="1.0"/>
<line x1="332.60" y1="998.80" x2="332.60" y2="997.50" stroke="#2b2b2b" stroke-width="1.0"/>
<line x1="334.39" y1="998.80" x2="334.39" y2="997.50" stroke="#2b2b2b" stroke-width="1.0"/>
<line x1="336.19" y1="998.80" x2="336.19" y2="997.50" stroke="#2b2b2b" stroke-width="1.0"/>
<line x1="337.99" y1="998.80" x2="337.99" y2="997.50" stroke="#2b2b2b" stroke-width="1.0"/>
<line x1="339.79" y1="998.80" x2="339.79" y2="997.50" stroke="#2b2b2b" stroke-width="1.0"/>
<line x1="341.58" y1="998.80" x2="341.58" y2="997.50" stroke="#2b2b2b" stroke-width="1.0"/>
<line x1="343.38" y1="998.80" x2="343.38" y2="997.50" stroke="#2b2b2b" stroke-width="1.0"/>
<line x1="345.18" y1="998.80" x2="345.18" y2="867.10" stroke="#2b2b2b"/>
<line x1="346.98" y1="998.80" x2="346.98" y2="997.50" stroke="#2b2b2b" stroke-width="1.0"/>
<line x1="348.78" y1="998.80" x2="348.78" y2="996.70" stroke="#2b2b2b"/>
<line x1="350.57" y1="998.80" x2="350.57" y2="997.43" stroke="#2b2b2b"/>
<line x1="352.37" y1="998.80" x2="352.37" y2="997.50" stroke="#2b2b2b" stroke-width="1.0"/>
<line x1="354.17" y1="998.80" x2="354.17" y2="997.50" stroke="#c4c4c4" stroke-width="1.0"/>
<line x1="355.97" y1="998.80" x2="355.97" y2="997.50" stroke="#c4c4c4" stroke-width="1.0"/>
<line x1="357.76" y1="998.80" x2="357.76" y2="997.50" stroke="#c4c4c4" stroke-width="1.0"/>
<line x1="359.56" y1="998.80" x2="359.56" y2="997.50" stroke="#c4c4c4" stroke-width="1.0"/>
<line x1="361.36" y1="998.80" x2="361.36" y2="997.50" stroke="#c4c4c4" stroke-width="1.0"/>
<line x1="363.16" y1="998.80" x2="363.16" y2="997.50" stroke="#2b2b2b" stroke-width="1.0"/>
<line x1="364.96" y1="998.80" x2="364.96" y2="997.50" stroke="#2b2b2b" stroke-width="1.0"/>
<line x1="366.75" y1="998.80" x2="366.75" y2="997.50" stroke="#2b2b2b" stroke-width="1.0"/>
<line x1="368.55" y1="998.80" x2="368.55" y2="997.50" stroke="#2b2b2b" stroke-width="1.0"/>
<line x1="370.35" y1="998.80" x2="370.35" y2="997.50" stroke="#2b2b2b" stroke-width="1.0"/>
<line x1="372.15" y1="998.80" x2="372.15" y2="997.50" stroke="#2b2b2b" stroke-width="1.0"/>
<line x1="373.94" y1="998.80" x2="373.94" y2="997.50" stroke="#2b2b2b" stroke-width="1.0"/>
<line x1="375.74" y1="998.80" x2="375.74" y2="997.50" stroke="#2b2b2b" stroke-width="1.0"/>
<line x1="377.54" y1="998.80" x2="377.54" y2="997.50" stroke="#2b2b2b" stroke-width="1.0"/>
<line x1="379.34" y1="998.80" x2="379.34" y2="997.50" stroke="#2b2b2b" stroke-width="1.0"/>
<line x1="381.13" y1="998.80" x2="381.13" y2="997.50" stroke="#2b2b2b" stroke-width="1.0"/>
<line x1="382.93" y1="998.80" x2="382.93" y2="997.50" stroke="#2b2b2b" stroke-width="1.0"/>
<line x1="384.73" y1="998.80" x2="384.73" y2="997.50" stroke="#2b2b2b" stroke-width="1.0"/>
<line x1="386.53" y1="998.80" x2="386.53" y2="997.50" stroke="#2b2b2b" stroke-width="1.0"/>
<line x1="388.33" y1="998.80" x2="388.33" y2="997.50" stroke="#2b2b2b" stroke-width="1.0"/>
<line x1="390.12" y1="998.80" x2="390.12" y2="997.50" stroke="#2b2b2b" stroke-width="1.0"/>
<line x1="391.92" y1="998.80" x2="391.92" y2="997.50" stroke="#2b2b2b" stroke-width="1.0"/>
<line x1="393.72" y1="998.80" x2="393.72" y2="997.50" stroke="#2b2b2b" stroke-width="1.0"/>
<line x1="395.52" y1="998.80" x2="395.52" y2="997.50" stroke="#2b2b2b" stroke-width="1.0"/>
<line x1="397.31" y1="998.80" x2="397.31" y2="997.50" stroke="#2b2b2b" stroke-width="1.0"/>
<line x1="399.11" y1="998.80" x2="399.11" y2="997.50" stroke="#2b2b2b" stroke-width="1.0"/>
<line x1="400.91" y1="998.80" x2="400.91" y2="997.50" stroke="#2b2b2b" stroke-width="1.0"/>
<line x1="402.71" y1="998.80" x2="402.71" y2="997.50" stroke="#2b2b2b" stroke-width="1.0"/>
<line x1="404.50" y1="998.80" x2="404.50" y2="961.25" stroke="#2b2b2b"/>
<line x1="406.30" y1="998.80" x2="406.30" y2="986.20" stroke="#2b2b2b"/>
<line x1="408.10" y1="998.80" x2="408.10" y2="997.50" stroke="#2b2b2b" stroke-width="1.0"/>
<line x1="409.90" y1="998.80" x2="409.90" y2="997.50" stroke="#2b2b2b" stroke-width="1.0"/>
<line x1="411.70" y1="998.80" x2="411.70" y2="997.50" stroke="#2b2b2b" stroke-width="1.0"/>
<line x1="413.49" y1="998.80" x2="413.49" y2="997.50" stroke="#2b2b2b" stroke-width="1.0"/>
<line x1="415.29" y1="998.80" x2="415.29" y2="997.50" stroke="#2b2b2b" stroke-width="1.0"/>
<line x1="417.09" y1="998.80" x2="417.09" y2="997.50" stroke="#2b2b2b" stroke-width="1.0"/>
<line x1="418.89" y1="998.80" x2="418.89" y2="997.50" stroke="#2b2b2b" stroke-width="1.0"/>
<line x1="420.68" y1="998.80" x2="420.68" y2="997.50" stroke="#c4c4c4" stroke-width="1.0"/>
<line x1="422.48" y1="998.80" x2="422.48" y2="997.50" stroke="#c4c4c4" stroke-width="1.0"/>
<line x1="424.28" y1="998.80" x2="424.28" y2="997.50" stroke="#c4c4c4" stroke-width="1.0"/>
<line x1="426.08" y1="998.80" x2="426.08" y2="997.50" stroke="#c4c4c4" stroke-width="1.0"/>
<line x1="427.87" y1="998.80" x2="427.87" y2="997.50" stroke="#c4c4c4" stroke-width="1.0"/>
<line x1="429.67" y1="998.80" x2="429.67" y2="997.50" stroke="#2b2b2b" stroke-width="1.0"/>
<line x1="431.47" y1="998.80" x2="431.47" y2="997.50" stroke="#2b2b2b" stroke-width="1.0"/>
<line x1="433.27" y1="998.80" x2="433.27" y2="997.50" stroke="#2b2b2b" stroke-width="1.0"/>
<line x1="435.07" y1="998.80" x2="435.07" y2="997.50" stroke="#2b2b2b" stroke-width="1.0"/>
<line x1="436.86" y1="998.80" x2="436.86" y2="997.50" stroke="#2b2b2b" stroke-width="1.0"/>
<line x1="438.66" y1="998.80" x2="438.66" y2="997.50" stroke="#2b2b2b" stroke-width="1.0"/>
<line x1="440.46" y1="998.80" x2="440.46" y2="997.50" stroke="#2b2b2b" stroke-width="1.0"/>
<line x1="442.26" y1="998.80" x2="442.26" y2="997.50" stroke="#2b2b2b" stroke-width="1.0"/>
<line x1="444.05" y1="998.80" x2="444.05" y2="997.50" stroke="#2b2b2b" stroke-width="1.0"/>
<line x1="445.85" y1="998.80" x2="445.85" y2="997.50" stroke="#2b2b2b" stroke-width="1.0"/>
<line x1="447.65" y1="998.80" x2="447.65" y2="997.50" stroke="#2b2b2b" stroke-width="1.0"/>
<line x1="449.45" y1="998.80" x2="449.45" y2="997.50" stroke="#2b2b2b" stroke-width="1.0"/>
<line x1="451.24" y1="998.80" x2="451.24" y2="997.50" stroke="#2b2b2b" stroke-width="1.0"/>
<line x1="453.04" y1="998.80" x2="453.04" y2="997.50" stroke="#2b2b2b" stroke-width="1.0"/>
<line x1="454.84" y1="998.80" x2="454.84" y2="960.96" stroke="#2b2b2b"/>
<line x1="456.64" y1="998.80" x2="456.64" y2="924.20" stroke="#2b2b2b"/>
<line x1="458.44" y1="998.80" x2="458.44" y2="928.14" stroke="#b0b0b0"/>
<line x1="460.23" y1="998.80" x2="460.23" y2="997.50" stroke="#c4c4c4" stroke-width="1.0"/>
<line x1="462.03" y1="998.80" x2="462.03" y2="997.50" stroke="#c4c4c4" stroke-width="1.0"/>
<line x1="463.83" y1="998.80" x2="463.83" y2="997.50" stroke="#c4c4c4" stroke-width="1.0"/>
<line x1="465.63" y1="998.80" x2="465.63" y2="997.50" stroke="#2b2b2b" stroke-width="1.0"/>
<line x1="467.42" y1="998.80" x2="467.42" y2="958.48" stroke="#2b2b2b"/>
<line x1="469.22" y1="998.80" x2="469.22" y2="997.50" stroke="#2b2b2b" stroke-width="1.0"/>
<line x1="471.02" y1="998.80" x2="471.02" y2="997.50" stroke="#2b2b2b" stroke-width="1.0"/>
<line x1="472.82" y1="998.80" x2="472.82" y2="997.50" stroke="#2b2b2b" stroke-width="1.0"/>
<line x1="474.61" y1="998.80" x2="474.61" y2="997.50" stroke="#2b2b2b" stroke-width="1.0"/>
<line x1="476.41" y1="998.80" x2="476.41" y2="997.50" stroke="#2b2b2b" stroke-width="1.0"/>
<line x1="478.21" y1="998.80" x2="478.21" y2="997.50" stroke="#2b2b2b" stroke-width="1.0"/>
<line x1="480.01" y1="998.80" x2="480.01" y2="997.50" stroke="#2b2b2b" stroke-width="1.0"/>
<line x1="481.81" y1="998.80" x2="481.81" y2="997.50" stroke="#2b2b2b" stroke-width="1.0"/>
<line x1="483.60" y1="998.80" x2="483.60" y2="997.50" stroke="#2b2b2b" stroke-width="1.0"/>
<line x1="485.40" y1="998.80" x2="485.40" y2="997.50" stroke="#2b2b2b" stroke-width="1.0"/>
<line x1="487.20" y1="998.80" x2="487.20" y2="997.50" stroke="#2b2b2b" stroke-width="1.0"/>
<line x1="489.00" y1="998.80" x2="489.00" y2="997.50" stroke="#2b2b2b" stroke-width="1.0"/>
<line x1="490.79" y1="998.80" x2="490.79" y2="997.50" stroke="#2b2b2b" stroke-width="1.0"/>
<line x1="492.59" y1="998.80" x2="492.59" y2="987.66" stroke="#2b2b2b"/>
<line x1="494.39" y1="998.80" x2="494.39" y2="997.50" stroke="#2b2b2b" stroke-width="1.0"/>
<line x1="496.19" y1="998.80" x2="496.19" y2="997.50" stroke="#2b2b2b" stroke-width="1.0"/>
<line x1="497.98" y1="998.80" x2="497.98" y2="997.50" stroke="#2b2b2b" stroke-width="1.0"/>
<line x1="499.78" y1="998.80" x2="499.78" y2="994.22" stroke="#2b2b2b"/>
<line x1="501.58" y1="998.80" x2="501.58" y2="997.50" stroke="#2b2b2b" stroke-width="1.0"/>
<line x1="503.38" y1="998.80" x2="503.38" y2="997.50" stroke="#c4c4c4" stroke-width="1.0"/>
<line x1="505.18" y1="998.80" x2="505.18" y2="997.50" stroke="#c4c4c4" stroke-width="1.0"/>
<line x1="506.97" y1="998.80" x2="506.97" y2="997.50" stroke="#c4c4c4" stroke-width="1.0"/>
<line x1="508.77" y1="998.80" x2="508.77" y2="997.50" stroke="#c4c4c4" stroke-width="1.0"/>
<line x1="510.57" y1="998.80" x2="510.57" y2="997.50" stroke="#c4c4c4" stroke-width="1.0"/>
<line x1="512.37" y1="998.80" x2="512.37" y2="997.50" stroke="#2b2b2b" stroke-width="1.0"/>
<line x1="514.16" y1="998.80" x2="514.16" y2="997.50" stroke="#2b2b2b" stroke-width="1.0"/>
<line x1="515.96" y1="998.80" x2="515.96" y2="997.50" stroke="#2b2b2b" stroke-width="1.0"/>
<line x1="517.76" y1="998.80" x2="517.76" y2="997.50" stroke="#2b2b2b" stroke-width="1.0"/>
<line x1="519.56" y1="998.80" x2="519.56" y2="997.50" stroke="#2b2b2b" stroke-width="1.0"/>
<line x1="521.35" y1="998.80" x2="521.35" y2="997.50" stroke="#2b2b2b" stroke-width="1.0"/>
<line x1="523.15" y1="998.80" x2="523.15" y2="997.50" stroke="#2b2b2b" stroke-width="1.0"/>
<line x1="524.95" y1="998.80" x2="524.95" y2="987.66" stroke="#2b2b2b"/>
<line x1="526.75" y1="998.80" x2="526.75" y2="996.70" stroke="#2b2b2b"/>
<line x1="528.55" y1="998.80" x2="528.55" y2="997.50" stroke="#2b2b2b" stroke-width="1.0"/>
<line x1="530.34" y1="998.80" x2="530.34" y2="997.50" stroke="#2b2b2b" stroke-width="1.0"/>
<line x1="532.14" y1="998.80" x2="532.14" y2="995.24" stroke="#2b2b2b"/>
<line x1="533.94" y1="998.80" x2="533.94" y2="997.50" stroke="#2b2b2b" stroke-width="1.0"/>
<line x1="535.74" y1="998.80" x2="535.74" y2="997.50" stroke="#2b2b2b" stroke-width="1.0"/>
<line x1="537.53" y1="998.80" x2="537.53" y2="849.50" stroke="#2b2b2b"/>
<line x1="539.33" y1="998.80" x2="539.33" y2="987.95" stroke="#2b2b2b"/>
<line x1="541.13" y1="998.80" x2="541.13" y2="973.80" stroke="#2b2b2b"/>
<line x1="542.93" y1="998.80" x2="542.93" y2="904.07" stroke="#2b2b2b"/>
<line x1="544.73" y1="998.80" x2="544.73" y2="975.11" stroke="#2b2b2b"/>
<line x1="546.52" y1="998.80" x2="546.52" y2="997.50" stroke="#2b2b2b" stroke-width="1.0"/>
<line x1="548.32" y1="998.80" x2="548.32" y2="995.24" stroke="#2b2b2b"/>
<line x1="550.12" y1="998.80" x2="550.12" y2="866.20" stroke="#2b2b2b"/>
<line x1="551.92" y1="998.80" x2="551.92" y2="996.70" stroke="#2b2b2b"/>
<line x1="553.71" y1="998.80" x2="553.71" y2="991.60" stroke="#b0b0b0"/>
<line x1="555.51" y1="998.80" x2="555.51" y2="996.70" stroke="#b0b0b0"/>
<line x1="557.31" y1="998.80" x2="557.31" y2="997.50" stroke="#c4c4c4" stroke-width="1.0"/>
<line x1="559.11" y1="998.80" x2="559.11" y2="996.99" stroke="#b0b0b0"/>
<line x1="560.90" y1="998.80" x2="560.90" y2="996.99" stroke="#b0b0b0"/>
<line x1="562.70" y1="998.80" x2="562.70" y2="966.07" stroke="#2b2b2b"/>
<line x1="564.50" y1="998.80" x2="564.50" y2="877.60" stroke="#2b2b2b"/>
<line x1="566.30" y1="998.80" x2="566.30" y2="863.60" stroke="#2b2b2b"/>
<line x1="568.10" y1="998.80" x2="568.10" y2="997.50" stroke="#2b2b2b" stroke-width="1.0"/>
<line x1="569.89" y1="998.80" x2="569.89" y2="997.50" stroke="#2b2b2b" stroke-width="1.0"/>
<line x1="571.69" y1="998.80" x2="571.69" y2="997.50" stroke="#2b2b2b" stroke-width="1.0"/>
<line x1="573.49" y1="998.80" x2="573.49" y2="997.50" stroke="#2b2b2b" stroke-width="1.0"/>
<line x1="575.29" y1="998.80" x2="575.29" y2="997.50" stroke="#2b2b2b" stroke-width="1.0"/>
<line x1="577.08" y1="998.80" x2="577.08" y2="997.50" stroke="#2b2b2b" stroke-width="1.0"/>
<line x1="578.88" y1="998.80" x2="578.88" y2="997.50" stroke="#2b2b2b" stroke-width="1.0"/>
<line x1="580.68" y1="998.80" x2="580.68" y2="987.66" stroke="#2b2b2b"/>
<line x1="582.48" y1="998.80" x2="582.48" y2="997.50" stroke="#2b2b2b" stroke-width="1.0"/>
<line x1="584.27" y1="998.80" x2="584.27" y2="997.50" stroke="#2b2b2b" stroke-width="1.0"/>
<line x1="586.07" y1="998.80" x2="586.07" y2="913.99" stroke="#2b2b2b"/>
<line x1="587.87" y1="998.80" x2="587.87" y2="970.01" stroke="#2b2b2b"/>
<line x1="589.67" y1="998.80" x2="589.67" y2="997.50" stroke="#2b2b2b" stroke-width="1.0"/>
<line x1="591.47" y1="998.80" x2="591.47" y2="997.50" stroke="#2b2b2b" stroke-width="1.0"/>
<line x1="593.26" y1="998.80" x2="593.26" y2="848.20" stroke="#2b2b2b"/>
<line x1="595.06" y1="998.80" x2="595.06" y2="967.53" stroke="#2b2b2b"/>
<line x1="596.86" y1="998.80" x2="596.86" y2="796.40" stroke="#2b2b2b"/>
<line x1="598.66" y1="998.80" x2="598.66" y2="890.21" stroke="#2b2b2b"/>
<line x1="600.45" y1="998.80" x2="600.45" y2="948.27" stroke="#2b2b2b"/>
<line x1="602.25" y1="998.80" x2="602.25" y2="996.27" stroke="#2b2b2b"/>
<line x1="604.05" y1="998.80" x2="604.05" y2="985.03" stroke="#2b2b2b"/>
<line x1="605.85" y1="998.80" x2="605.85" y2="906.55" stroke="#2b2b2b"/>
<line x1="607.64" y1="998.80" x2="607.64" y2="990.14" stroke="#2b2b2b"/>
<line x1="609.44" y1="998.80" x2="609.44" y2="995.24" stroke="#2b2b2b"/>
<line x1="611.24" y1="998.80" x2="611.24" y2="996.70" stroke="#2b2b2b"/>
<line x1="613.04" y1="998.80" x2="613.04" y2="994.22" stroke="#2b2b2b"/>
<line x1="614.84" y1="998.80" x2="614.84" y2="968.55" stroke="#2b2b2b"/>
<line x1="616.63" y1="998.80" x2="616.63" y2="934.27" stroke="#2b2b2b"/>
<line x1="618.43" y1="998.80" x2="618.43" y2="951.04" stroke="#2b2b2b"/>
<line x1="620.23" y1="998.80" x2="620.23" y2="963.44" stroke="#b0b0b0"/>
<line x1="622.03" y1="998.80" x2="622.03" y2="996.70" stroke="#b0b0b0"/>
<line x1="623.82" y1="998.80" x2="623.82" y2="953.38" stroke="#b0b0b0"/>
<line x1="625.62" y1="998.80" x2="625.62" y2="949.73" stroke="#b0b0b0"/>
<line x1="627.42" y1="998.80" x2="627.42" y2="995.24" stroke="#b0b0b0"/>
<line x1="629.22" y1="998.80" x2="629.22" y2="997.50" stroke="#2b2b2b" stroke-width="1.0"/>
<line x1="631.01" y1="998.80" x2="631.01" y2="997.50" stroke="#2b2b2b" stroke-width="1.0"/>
<line x1="632.81" y1="998.80" x2="632.81" y2="996.70" stroke="#2b2b2b"/>
<line x1="634.61" y1="998.80" x2="634.61" y2="996.27" stroke="#2b2b2b"/>
<line x1="636.41" y1="998.80" x2="636.41" y2="996.70" stroke="#2b2b2b"/>
<line x1="638.21" y1="998.80" x2="638.21" y2="997.50" stroke="#2b2b2b" stroke-width="1.0"/>
<line x1="640.00" y1="998.80" x2="640.00" y2="995.24" stroke="#2b2b2b"/>
<line x1="641.80" y1="998.80" x2="641.80" y2="995.13" stroke="#2b2b2b"/>
<line x1="643.60" y1="998.80" x2="643.60" y2="997.50" stroke="#2b2b2b" stroke-width="1.0"/>
<line x1="645.40" y1="998.80" x2="645.40" y2="997.50" stroke="#2b2b2b" stroke-width="1.0"/>
<line x1="647.19" y1="998.80" x2="647.19" y2="997.50" stroke="#2b2b2b" stroke-width="1.0"/>
<line x1="648.99" y1="998.80" x2="648.99" y2="997.50" stroke="#2b2b2b" stroke-width="1.0"/>
<line x1="650.79" y1="998.80" x2="650.79" y2="997.50" stroke="#2b2b2b" stroke-width="1.0"/>
<line x1="652.59" y1="998.80" x2="652.59" y2="987.73" stroke="#2b2b2b"/>
<line x1="654.38" y1="998.80" x2="654.38" y2="932.20" stroke="#2b2b2b"/>
<line x1="656.18" y1="998.80" x2="656.18" y2="997.50" stroke="#2b2b2b" stroke-width="1.0"/>
<line x1="657.98" y1="998.80" x2="657.98" y2="997.50" stroke="#2b2b2b" stroke-width="1.0"/>
<line x1="659.78" y1="998.80" x2="659.78" y2="997.50" stroke="#2b2b2b" stroke-width="1.0"/>
<line x1="661.58" y1="998.80" x2="661.58" y2="997.50" stroke="#2b2b2b" stroke-width="1.0"/>
<line x1="663.37" y1="998.80" x2="663.37" y2="997.50" stroke="#2b2b2b" stroke-width="1.0"/>
<line x1="665.17" y1="998.80" x2="665.17" y2="954.79" stroke="#2b2b2b"/>
<line x1="666.97" y1="998.80" x2="666.97" y2="997.50" stroke="#2b2b2b" stroke-width="1.0"/>
<line x1="668.77" y1="998.80" x2="668.77" y2="997.50" stroke="#2b2b2b" stroke-width="1.0"/>
<line x1="670.56" y1="998.80" x2="670.56" y2="997.50" stroke="#2b2b2b" stroke-width="1.0"/>
<line x1="672.36" y1="998.80" x2="672.36" y2="997.50" stroke="#2b2b2b" stroke-width="1.0"/>
<line x1="674.16" y1="998.80" x2="674.16" y2="997.50" stroke="#c4c4c4" stroke-width="1.0"/>
<line x1="675.96" y1="998.80" x2="675.96" y2="995.13" stroke="#b0b0b0"/>
<line x1="677.75" y1="998.80" x2="677.75" y2="957.08" stroke="#b0b0b0"/>
<line x1="679.55" y1="998.80" x2="679.55" y2="997.50" stroke="#c4c4c4" stroke-width="1.0"/>
<line x1="681.35" y1="998.80" x2="681.35" y2="997.50" stroke="#c4c4c4" stroke-width="1.0"/>
<line x1="683.15" y1="998.80" x2="683.15" y2="996.47" stroke="#b0b0b0"/>
<line x1="684.95" y1="998.80" x2="684.95" y2="966.22" stroke="#2b2b2b"/>
<line x1="686.74" y1="998.80" x2="686.74" y2="982.62" stroke="#2b2b2b"/>
<line x1="688.54" y1="998.80" x2="688.54" y2="884.87" stroke="#2b2b2b"/>
<line x1="690.34" y1="998.80" x2="690.34" y2="949.82" stroke="#2b2b2b"/>
<line x1="692.14" y1="998.80" x2="692.14" y2="996.47" stroke="#2b2b2b"/>
<line x1="693.93" y1="998.80" x2="693.93" y2="930.59" stroke="#2b2b2b"/>
<line x1="695.73" y1="998.80" x2="695.73" y2="936.24" stroke="#2b2b2b"/>
<line x1="697.53" y1="998.80" x2="697.53" y2="997.50" stroke="#2b2b2b" stroke-width="1.0"/>
<line x1="699.33" y1="998.80" x2="699.33" y2="944.44" stroke="#2b2b2b"/>
<line x1="701.12" y1="998.80" x2="701.12" y2="997.50" stroke="#2b2b2b" stroke-width="1.0"/>
<line x1="702.92" y1="998.80" x2="702.92" y2="997.50" stroke="#2b2b2b" stroke-width="1.0"/>
<line x1="704.72" y1="998.80" x2="704.72" y2="997.50" stroke="#2b2b2b" stroke-width="1.0"/>
</g>
<rect x="59.4" y="588.6" width="647.10" height="436.40" fill="none" stroke="#333" stroke-width="1.1"/>
<line x1="51.40" y1="998.10" x2="59.40" y2="998.10" stroke="#333" stroke-width="1.1" />
<text x="43.3" y="1003.10" font-size="13.54" text-anchor="end" fill="#222">0</text>
<line x1="51.40" y1="934.74" x2="59.40" y2="934.74" stroke="#333" stroke-width="1.1" />
<text x="43.3" y="939.74" font-size="13.54" text-anchor="end" fill="#222">10</text>
<line x1="51.40" y1="871.38" x2="59.40" y2="871.38" stroke="#333" stroke-width="1.1" />
<text x="43.3" y="876.38" font-size="13.54" text-anchor="end" fill="#222">20</text>
<line x1="51.40" y1="808.02" x2="59.40" y2="808.02" stroke="#333" stroke-width="1.1" />
<text x="43.3" y="813.02" font-size="13.54" text-anchor="end" fill="#222">30</text>
<line x1="51.40" y1="744.66" x2="59.40" y2="744.66" stroke="#333" stroke-width="1.1" />
<text x="43.3" y="749.66" font-size="13.54" text-anchor="end" fill="#222">40</text>
<line x1="51.40" y1="681.30" x2="59.40" y2="681.30" stroke="#333" stroke-width="1.1" />
<text x="43.3" y="686.30" font-size="13.54" text-anchor="end" fill="#222">50</text>
<line x1="51.40" y1="617.94" x2="59.40" y2="617.94" stroke="#333" stroke-width="1.1" />
<text x="43.3" y="622.94" font-size="13.54" text-anchor="end" fill="#222">60</text>
<line x1="706.50" y1="808.00" x2="714.50" y2="808.00" stroke="#333" stroke-width="1.1" />
<text x="721.7" y="813.00" font-size="13.54" fill="#222">0</text>
<line x1="706.50" y1="744.50" x2="714.50" y2="744.50" stroke="#333" stroke-width="1.1" />
<text x="721.7" y="749.50" font-size="13.54" fill="#222">10</text>
<line x1="706.50" y1="681.00" x2="714.50" y2="681.00" stroke="#333" stroke-width="1.1" />
<text x="721.7" y="686.00" font-size="13.54" fill="#222">20</text>
<line x1="706.50" y1="617.50" x2="714.50" y2="617.50" stroke="#333" stroke-width="1.1" />
<text x="721.7" y="622.50" font-size="13.54" fill="#222">30</text>
<line x1="95.30" y1="580.60" x2="95.30" y2="588.60" stroke="#333" stroke-width="1.1" />
<line x1="95.30" y1="1025.00" x2="95.30" y2="1033.00" stroke="#333" stroke-width="1.1" />
<text x="95.30" y="1051.0" font-size="13.54" text-anchor="middle" fill="#222">0</text>
<line x1="275.07" y1="580.60" x2="275.07" y2="588.60" stroke="#333" stroke-width="1.1" />
<line x1="275.07" y1="1025.00" x2="275.07" y2="1033.00" stroke="#333" stroke-width="1.1" />
<text x="275.07" y="1051.0" font-size="13.54" text-anchor="middle" fill="#222">100</text>
<line x1="454.84" y1="580.60" x2="454.84" y2="588.60" stroke="#333" stroke-width="1.1" />
<line x1="454.84" y1="1025.00" x2="454.84" y2="1033.00" stroke="#333" stroke-width="1.1" />
<text x="454.84" y="1051.0" font-size="13.54" text-anchor="middle" fill="#222">200</text>
<line x1="634.61" y1="580.60" x2="634.61" y2="588.60" stroke="#333" stroke-width="1.1" />
<line x1="634.61" y1="1025.00" x2="634.61" y2="1033.00" stroke="#333" stroke-width="1.1" />
<text x="634.61" y="1051.0" font-size="13.54" text-anchor="middle" fill="#222">300</text>
<text x="383" y="1078.5" font-size="16.3" text-anchor="middle" fill="#222">DoY</text>
<text transform="translate(12.3,806.7) rotate(-90)" font-size="16.3" text-anchor="middle" fill="#222">Daily rain, mm</text>
<text transform="translate(750,807) rotate(-90)" font-size="16.3" text-anchor="middle" fill="#222">Soil temp.°C</text>
<text x="88.3" y="656.1" font-size="16.3" fill="#222">b)</text>
<text x="95.3" y="939.2" font-size="10.8" text-anchor="middle" fill="#222">0.2</text>
<text x="123.9" y="945.5" font-size="10.8" text-anchor="middle" fill="#222">8.6</text>
<text x="160.0" y="876.5" font-size="10.8" text-anchor="middle" fill="#222">3.2</text>
<text x="183.2" y="907.6" font-size="10.8" text-anchor="middle" fill="#222">37.4</text>
<text x="212.0" y="958.2" font-size="10.8" text-anchor="middle" fill="#222">4.4</text>
<text x="233.6" y="983.7" font-size="10.8" text-anchor="middle" fill="#222">0.2</text>
<text x="253.29999999999998" y="780.6" font-size="10.8" text-anchor="middle" fill="#222">41.4</text>
<text x="283.8" y="812.2" font-size="10.8" text-anchor="middle" fill="#222">29.4</text>
<text x="321.8" y="939.4" font-size="10.8" text-anchor="middle" fill="#222">4.8</text>
<text x="362.9" y="983.7" font-size="10.8" text-anchor="middle" fill="#222">0</text>
<text x="429.59999999999997" y="983.7" font-size="10.8" text-anchor="middle" fill="#222">0</text>
<text x="465.7" y="907.6" font-size="10.8" text-anchor="middle" fill="#222">11</text>
<text x="512.1" y="983.7" font-size="10.8" text-anchor="middle" fill="#222">0</text>
<text x="561.2" y="844.3" font-size="10.8" text-anchor="middle" fill="#222">1.6</text>
<text x="627.2" y="926.6" font-size="10.8" text-anchor="middle" fill="#222">20.4</text>
<text x="683.0" y="939.0" font-size="10.8" text-anchor="middle" fill="#222">7</text>
</svg>
</body></html>
